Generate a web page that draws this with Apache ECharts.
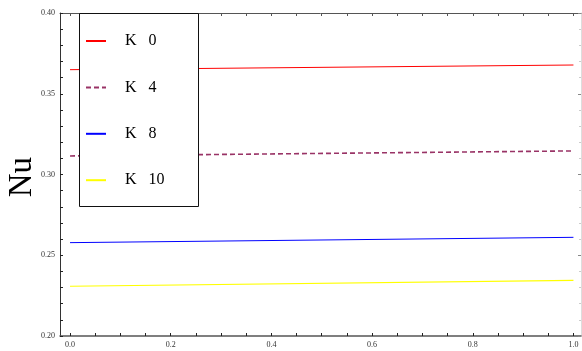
<!DOCTYPE html>
<html><head><meta charset="utf-8">
<script src="https://cdn.jsdelivr.net/npm/echarts@6/dist/echarts.min.js"></script>
<style>html,body{margin:0;padding:0;background:#fff}#c{width:582px;height:351px}</style>
</head><body><div id="c"></div>
<script>
var xValues = [0, 1];
var seriesNames = ['K   0', 'K   4', 'K   8', 'K   10'];
var k0 = [0.3649, 0.3678];
var k4 = [0.3115, 0.3146];
var k8 = [0.2578, 0.2611];
var k10 = [0.2308, 0.2345];
var xTickValues = [0, 0.05, 0.1, 0.15, 0.2, 0.25, 0.3, 0.35, 0.4, 0.45, 0.5, 0.55, 0.6, 0.65, 0.7, 0.75, 0.8, 0.85, 0.9, 0.95, 1.0];
var xLabelValues = [0, 0.2, 0.4, 0.6, 0.8, 1.0];
var yAxisName = 'Nu';

function pairs(ys){ return xValues.map(function(x,i){ return [x, ys[i]]; }); }

var chart = echarts.init(document.getElementById('c'), null, {renderer:'canvas'});
var serif = 'Liberation Serif, Times New Roman, serif';
chart.setOption({
  animation: false,
  grid: {left: 60, right: 1, top: 13, bottom: 15, containLabel: false},
  xAxis: [{
    type: 'value', min: -0.0199, max: 1.015, position: 'bottom',
    axisLine: {show: true, lineStyle: {color: '#555', width: 1.5}},
    axisTick: {show: true, inside: true, length: 3, customValues: xTickValues, lineStyle: {color: '#222'}},
    axisLabel: {show: true, customValues: xLabelValues, formatter: function(v){return v.toFixed(1);}, fontFamily: serif, fontSize: 8, color: '#333', margin: 5},
    splitLine: {show: false}
  }, {
    type: 'value', min: -0.0199, max: 1.015, position: 'top',
    axisLine: {show: true, onZero: false, lineStyle: {color: '#555', width: 1}},
    axisTick: {show: true, inside: true, length: 3, customValues: xTickValues, lineStyle: {color: '#555'}},
    axisLabel: {show: false},
    splitLine: {show: false}
  }],
  yAxis: [{
    type: 'value', min: 0.2, max: 0.4, interval: 0.05, position: 'left',
    axisLine: {show: true, onZero: false, lineStyle: {color: '#333', width: 1}},
    axisTick: {show: true, inside: true, length: 3, lineStyle: {color: '#222'}},
    minorTick: {show: true, splitNumber: 5, length: 3, lineStyle: {color: '#222'}},
    axisLabel: {formatter: function(v){return v.toFixed(2);}, fontFamily: serif, fontSize: 8, color: '#333', margin: 5},
    splitLine: {show: false}
  }, {
    type: 'value', min: 0.2, max: 0.4, interval: 0.05, position: 'right',
    axisLine: {show: true, onZero: false, lineStyle: {color: '#ddd', width: 1}},
    axisTick: {show: true, inside: true, length: 3, lineStyle: {color: '#888'}},
    minorTick: {show: true, splitNumber: 5, length: 2, lineStyle: {color: '#ccc'}},
    axisLabel: {show: false},
    splitLine: {show: false}
  }],
  legend: {
    orient: 'vertical', left: 79, top: 13, padding: [20, 0, 0, 6],
    itemWidth: 20, itemHeight: 12, itemGap: 30.4,
    itemStyle: {opacity: 0},
    data: seriesNames,
    textStyle: {fontFamily: serif, fontSize: 16, color: '#000', padding: [0,0,0,14], lineHeight: 16},
    z: 5
  },
  graphic: [{
    type: 'rect', z: 4, silent: true,
    shape: {x: 79.5, y: 13.5, width: 119, height: 193},
    style: {fill: '#fff', stroke: '#111', lineWidth: 1}
  }, {
    type: 'text', left: 6, top: 157, rotation: Math.PI/2,
    style: {text: yAxisName, font: '33px ' + serif, fill: '#000'}
  }],
  series: [
    {name: seriesNames[0], type: 'line', data: pairs(k0), symbol: 'none', lineStyle: {color: '#ff0000', width: 1}, itemStyle: {color: '#ff0000'}},
    {name: seriesNames[1], type: 'line', data: pairs(k4), symbol: 'none', lineStyle: {color: '#993366', width: 1.6, type: [5, 3]}, itemStyle: {color: '#993366'}},
    {name: seriesNames[2], type: 'line', data: pairs(k8), symbol: 'none', lineStyle: {color: '#0000ff', width: 1}, itemStyle: {color: '#0000ff'}},
    {name: seriesNames[3], type: 'line', data: pairs(k10), symbol: 'none', lineStyle: {color: '#ffff00', width: 1.2}, itemStyle: {color: '#ffff00'}}
  ]
});
</script></body></html>
